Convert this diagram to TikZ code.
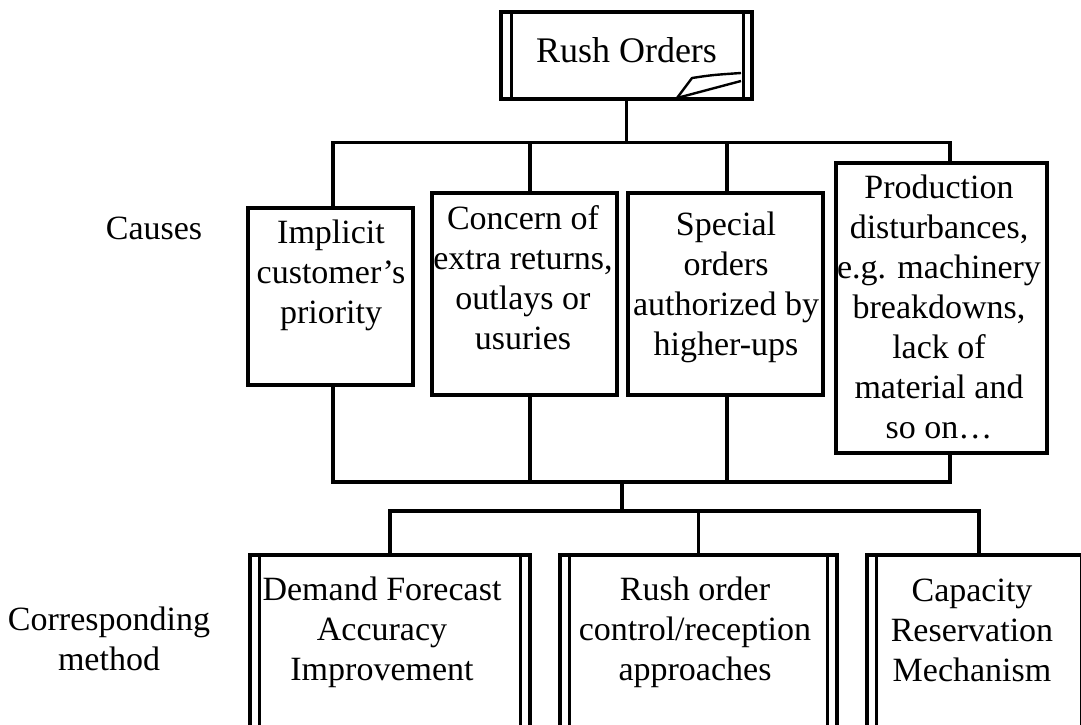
\documentclass[tikz,border=0pt]{standalone}
\usepackage{fontspec}
\setmainfont{Liberation Serif}
\begin{document}
\begin{tikzpicture}[x=1pt,y=-1pt,
  box/.style={draw, line width=3.2pt, inner sep=0pt, rectangle},
  txt/.style={align=center, inner sep=0pt, font=\fontsize{34}{40}\selectfont},
  wire/.style={line width=3.2pt},
  rule/.style={line width=2.8pt},
]
\useasboundingbox (0,0) rectangle (1081,725);
\clip (0,0) rectangle (1081,725);

% ---- head node ----
\node[box, minimum width=251pt, minimum height=87pt] (top) at (626.5,55.5) {};
\draw[rule] ([xshift=12pt]top.north west) -- ([xshift=12pt]top.south west);
\draw[rule] ([xshift=-10pt]top.north east) -- ([xshift=-10pt]top.south east);
\draw[line width=2.4pt, line join=round] (677,98) -- (692,78) .. controls (712,75) .. (741,73);
\draw[line width=2.4pt] (677,98) -- (741,81);
\node[txt, font=\fontsize{36}{40}\selectfont] (topt) at (626.5,50.5) {Rush Orders};

% ---- row labels ----
\node[txt] (causes) at (154,228) {Causes};
\node[txt] (method) at (109,639) {Corresponding\\method};

% ---- causes ----
\node[box, minimum width=165pt, minimum height=177pt] (c1) at (330.5,296.5) {};
\node[box, minimum width=185pt, minimum height=202pt] (c2) at (524.5,294) {};
\node[box, minimum width=195pt, minimum height=202pt] (c3) at (725.5,294) {};
\node[box, minimum width=211pt, minimum height=290pt] (c4) at (941.5,308) {};

\node[txt] (c1t) at (331,275) {Implicit\\customer’s\\priority};
\node[txt] (c2t) at (523,277.5) {Concern of\\extra returns,\\outlays or\\usuries};
\node[txt] (c3t) at (726,287) {Special\\orders\\authorized by\\higher-ups};
\node[txt] (c4t) at (939,306.5) {Production\\disturbances,\\e.g. machinery\\breakdowns,\\lack of\\material and\\so on…};

% ---- methods ----
\node[box, minimum width=280pt, minimum height=185pt] (m1) at (390,647.5) {};
\node[box, minimum width=277pt, minimum height=185pt] (m2) at (698.5,647.5) {};
\node[box, minimum width=224pt, minimum height=185pt] (m3) at (979,647.5) {};
\foreach \m in {m1,m2,m3}{
  \draw[rule] ([xshift=11pt]\m.north west) -- ([xshift=11pt]\m.south west);
  \draw[rule] ([xshift=-11pt]\m.north east) -- ([xshift=-11pt]\m.south east);
}
\node[txt] (m1t) at (382,632.5) {Demand Forecast\\Accuracy\\Improvement};
\node[txt] (m2t) at (695,632.5) {Rush order\\control/reception\\approaches};
\node[txt] (m3t) at (972,630) {Capacity\\Reservation\\Mechanism};

% ---- connectors ----
\coordinate (bus1) at ([yshift=-42pt]top.south);
\draw[wire] (top.south) -- (bus1);
\draw[wire] (bus1) -| ([xshift=2.5pt]c1.north);
\draw[wire] (bus1) -| ([xshift=5.5pt]c2.north);
\draw[wire] (bus1) -| ([xshift=1.5pt]c3.north);
\draw[wire] (bus1) -| ([xshift=8.5pt]c4.north);

\coordinate (bus2) at (622,482);
\draw[wire] ([xshift=2.5pt]c1.south) |- (bus2);
\draw[wire] ([xshift=5.5pt]c2.south) |- (bus2);
\draw[wire] ([xshift=1.5pt]c3.south) |- (bus2);
\draw[wire] ([xshift=8.5pt]c4.south) |- (bus2);

\coordinate (bus3) at (622,511);
\draw[wire] (bus2) -- (bus3);
\draw[wire] (bus3) -| (m1.north);
\draw[wire] (bus3) -| (m2.north);
\draw[wire] (bus3) -| (m3.north);
\end{tikzpicture}
\end{document}
